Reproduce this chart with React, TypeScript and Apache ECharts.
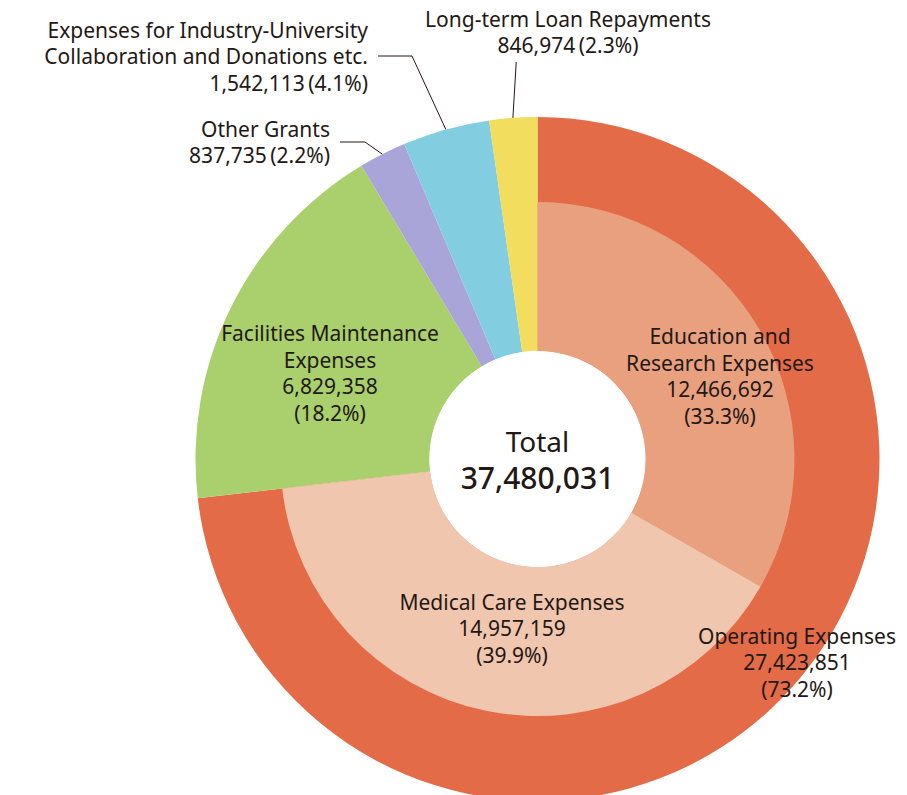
import React, { useEffect, useRef } from 'react';
import * as echarts from 'echarts';

// ---- data ----
const outerNames = [
  'Operating Expenses',
  'Facilities Maintenance Expenses',
  'Other Grants',
  'Expenses for Industry-University Collaboration and Donations etc.',
  'Long-term Loan Repayments',
];
const outerNameLines = [
  ['Operating Expenses'],
  ['Facilities Maintenance', 'Expenses'],
  ['Other Grants'],
  ['Expenses for Industry-University', 'Collaboration and Donations etc.'],
  ['Long-term Loan Repayments'],
];
const outerValues = [27423851, 6829358, 837735, 1542113, 846974];
const outerPercents = ['73.2%', '18.2%', '2.2%', '4.1%', '2.3%'];

const innerNames = ['Education and Research Expenses', 'Medical Care Expenses'];
const innerNameLines = [['Education and', 'Research Expenses'], ['Medical Care Expenses']];
const innerValues = [12466692, 14957159];
const innerPercents = ['33.3%', '39.9%'];

const totalLabel = 'Total';

// ---- styles ----
const FONT = "'Noto Sans', 'Noto Sans CJK JP', sans-serif";
const TEXT = '#231815';
const outerColors = ['#E36B48', '#A9D06C', '#A9A5D9', '#82CDE0', '#F3DD5E'];
const innerColors = ['#E9A07F', '#F1C6AE'];
// 'stacked' => value and percent on separate lines; 'inline' => same line
const outerStyle = ['stacked', 'stacked', 'inline', 'inline', 'inline'];
const innerStyle = ['stacked', 'stacked'];
const outerLabelLayout: any[] = [
  { x: 797, y: 662, align: 'center', verticalAlign: 'middle' },
  { x: 330, y: 373, align: 'center', verticalAlign: 'middle' },
  { x: 340, y: 142, align: 'right', verticalAlign: 'middle' },
  { x: 378, y: 56, align: 'right', verticalAlign: 'middle' },
  { x: 568, y: 32, align: 'center', verticalAlign: 'middle' },
];
const innerLabelLayout: any[] = [
  { x: 720, y: 376, align: 'center', verticalAlign: 'middle' },
  { x: 512, y: 628, align: 'center', verticalAlign: 'middle' },
  {},
];
const outerLen2 = [0, 0, 25, 34, 6];
const outerPadding: any[] = [0, 0, [0, 10, 0, 0], [0, 10, 0, 0], [0, 0, 4, 0]];

const fmt = (v: number) => v.toLocaleString('en-US');
const labelText = (lines: string[], v: number, pct: string, style: string) =>
  style === 'stacked'
    ? [...lines, fmt(v), `(${pct})`].join('\n')
    : [...lines, `${fmt(v)}\u2009(${pct})`].join('\n');

export default function App() {
  const ref = useRef<HTMLDivElement>(null);
  useEffect(() => {
    if (!ref.current) return;
    const chart = echarts.init(ref.current, null, { renderer: 'svg' });
    const total = outerValues.reduce((a, b) => a + b, 0);
    const innerSum = innerValues.reduce((a, b) => a + b, 0);
    const baseText = { fontFamily: FONT, fontSize: 21, lineHeight: 26.5, color: TEXT };
    const center = [537.5, 459];

    chart.setOption({
      animation: false,
      backgroundColor: '#ffffff',
      series: [
        {
          type: 'pie',
          name: 'outer',
          center,
          radius: [108, 342],
          startAngle: 90,
          clockwise: true,
          silent: true,
          avoidLabelOverlap: false,
          itemStyle: { borderWidth: 0 },
          data: outerValues.map((v, i) => ({
            value: v,
            name: outerNames[i],
            itemStyle: { color: outerColors[i] },
            label: {
              show: true,
              position: outerLen2[i] > 0 ? 'outside' : 'inside',
              formatter: labelText(outerNameLines[i], v, outerPercents[i], outerStyle[i]),
              padding: outerPadding[i],
              ...baseText,
            },
            labelLine: {
              show: outerLen2[i] > 0,
              length: 10,
              length2: outerLen2[i],
              lineStyle: { color: TEXT, width: 1 },
            },
          })),
          labelLayout: (p: any) => {
            const lay = { ...outerLabelLayout[p.dataIndex] };
            // the loan label's leader drops straight from the label into its slice
            if (p.dataIndex === 4 && p.labelLinePoints && p.labelLinePoints[0]) {
              const [x1, y1] = p.labelLinePoints[0];
              lay.labelLinePoints = [
                [x1 - 1, y1 + 11],
                [x1 + 3, lay.y + 30],
                [x1 + 3, lay.y + 30],
              ];
            }
            return lay;
          },
        },
        {
          type: 'pie',
          name: 'inner',
          center,
          radius: [108, 257],
          startAngle: 90,
          clockwise: true,
          silent: true,
          avoidLabelOverlap: false,
          itemStyle: { borderWidth: 0 },
          data: [
            ...innerValues.map((v, i) => ({
              value: v,
              name: innerNames[i],
              itemStyle: { color: innerColors[i] },
              label: {
                show: true,
                position: 'inside',
                formatter: labelText(innerNameLines[i], v, innerPercents[i], innerStyle[i]),
                ...baseText,
              },
              labelLine: { show: false },
            })),
            {
              value: total - innerSum,
              name: 'rest',
              itemStyle: { color: 'rgba(0,0,0,0)' },
              label: { show: false },
              labelLine: { show: false },
            },
          ],
          labelLayout: (p: any) => innerLabelLayout[p.dataIndex] || {},
        },
        {
          type: 'pie',
          name: 'total',
          center,
          radius: [0, 108],
          silent: true,
          data: [{ value: total, name: totalLabel, itemStyle: { color: '#ffffff' } }],
          label: {
            show: true,
            position: 'center',
            formatter: `{a|${totalLabel}}\n{b|${fmt(total)}}`,
            rich: {
              a: { fontFamily: FONT, fontSize: 28, lineHeight: 37, color: TEXT },
              b: { fontFamily: FONT, fontSize: 30, lineHeight: 37, color: TEXT, fontWeight: 500 },
            },
          },
          labelLine: { show: false },
        },
      ],
    });
    return () => chart.dispose();
  }, []);
  return (
    <div
      ref={ref}
      style={{ position: 'fixed', left: 0, top: 0, width: 907, height: 795, background: '#fff' }}
    />
  );
}
